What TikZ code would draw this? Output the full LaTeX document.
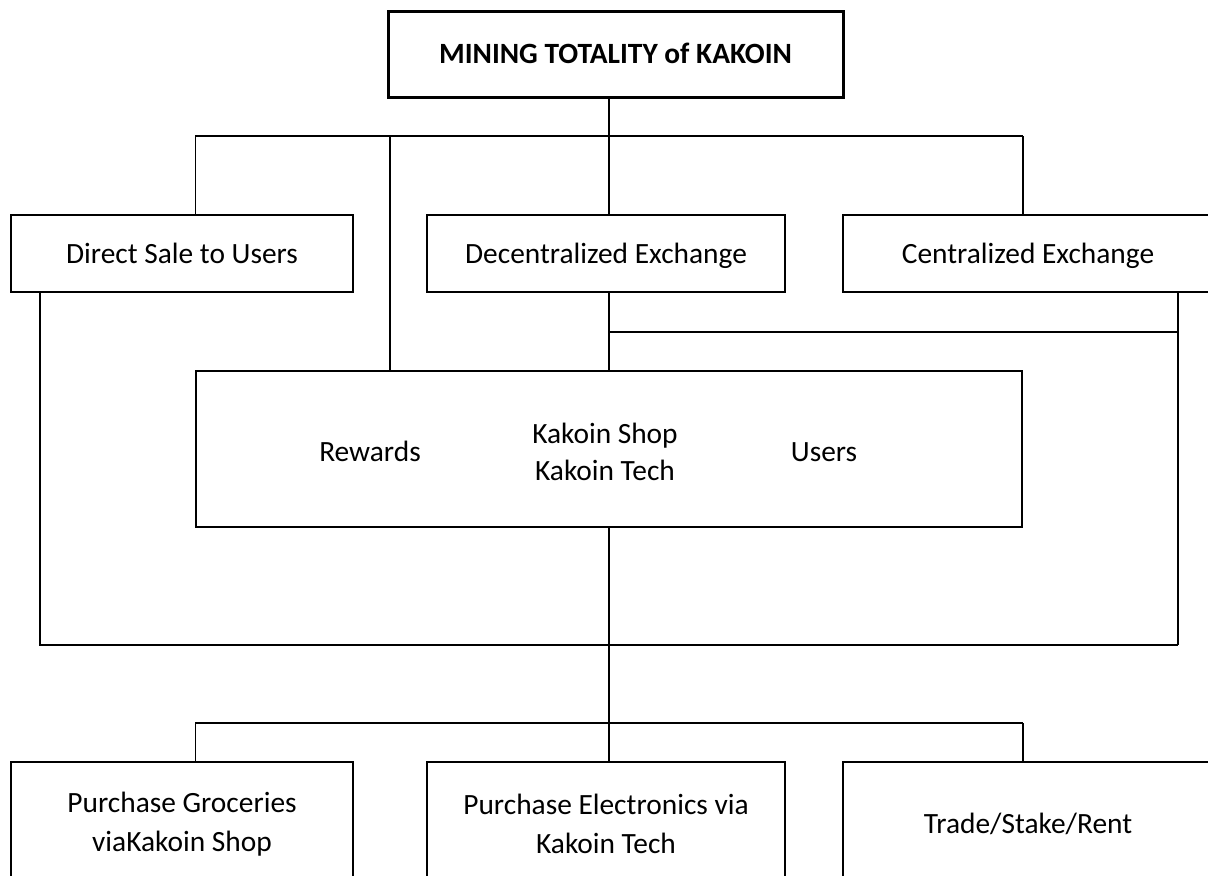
\documentclass[tikz,border=0pt]{standalone}
\usepackage{fontspec}
\setmainfont{Carlito}
\usetikzlibrary{positioning,calc}

\begin{document}
\begin{tikzpicture}[
        x=0.5pt, y=-0.5pt,
        box/.style={rectangle, draw, line width=0.8pt, align=center, inner sep=0pt, minimum height=38.5pt, font=\fontsize{14.7}{19.5}\selectfont},
        oneline/.style={text height=9.5pt, text depth=0pt},
        lbl/.style={align=center, inner sep=0pt, font=\fontsize{14.7}{18.5}\selectfont},
        line/.style={line width=0.7pt}
    ]
        \useasboundingbox (0,0) rectangle (1208,875);

        % Title
        \node[box, oneline, line width=1.5pt, minimum width=227.5pt, minimum height=43pt, font=\fontsize{14.7}{19.5}\selectfont\bfseries] (top) at (615.5,54) {MINING TOTALITY of KAKOIN};

        % Row 1: sale channels
        \node[box, oneline, minimum width=171pt] (direct) at (182,253.5) {Direct Sale to Users};
        \node[box, oneline, minimum width=179pt] (dex) at (606,253.5) {Decentralized Exchange};
        \node[box, oneline, minimum width=185pt] (cex) at (1028,253.5) {Centralized Exchange};

        % Row 2: hub with its three labels
        \node[box, minimum width=413pt, minimum height=78pt] (hub) at (609,449) {};
        \node[lbl, oneline] (rewards) at (370,452) {Rewards};
        \node[lbl] (shoptech) at (605,452) {Kakoin Shop\\Kakoin Tech};
        \node[lbl, oneline] (users) at (824,452) {Users};

        % Row 3: uses
        \node[box, minimum width=171pt, minimum height=62pt] (groc) at (182,824) {Purchase Groceries\\viaKakoin Shop};
        \node[box, minimum width=179pt, minimum height=62pt] (elec) at (606,824) {Purchase Electronics via\\Kakoin Tech};
        \node[box, oneline, minimum width=185pt, minimum height=62pt] (trade) at (1028,824) {Trade/Stake/Rent};

        % Junctions
        \coordinate (spine) at (609,136);
        \coordinate (feed) at (390,136);
        \coordinate (cexdown) at (1178,332);
        \coordinate (loopL) at (40,645);
        \coordinate (split) at (609,723);

        % Title bus
        \draw[line] (top.south -| spine) -- (spine |- dex.north);
        \draw[line] (hub.north west |- spine) -- (hub.north east |- spine);
        \draw[line] (hub.north west |- spine) -- (hub.north west |- direct.north);
        \draw[line] (hub.north east |- spine) -- (hub.north east |- cex.north);
        \draw[line] (feed) -- (feed |- hub.north);

        % Exchanges to hub
        \draw[line] (dex.south -| spine) -- (spine |- hub.north);
        \draw[line] (spine |- cexdown) -- (cexdown);
        \draw[line] (cexdown |- cex.south) -- (cexdown |- loopL);

        % Outer loop
        \draw[line] (loopL |- direct.south) -- (loopL) -- (cexdown |- loopL);

        % Hub to uses
        \draw[line] (hub.south -| split) -- (split |- elec.north);
        \draw[line] (hub.south west |- split) -- (hub.south east |- split);
        \draw[line] (hub.south west |- split) -- (hub.south west |- groc.north);
        \draw[line] (hub.south east |- split) -- (hub.south east |- trade.north);
    \end{tikzpicture}
\end{document}
